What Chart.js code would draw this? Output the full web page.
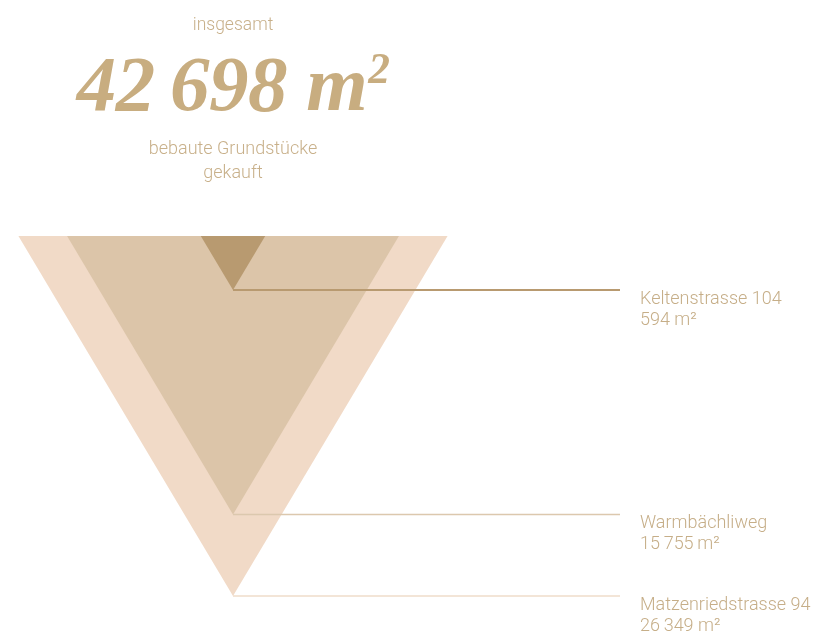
<!DOCTYPE html>
<html>
<head>
<meta charset="utf-8">
<script src="https://cdn.jsdelivr.net/npm/chart.js@4.4.1/dist/chart.umd.min.js"></script>
<style>
  html, body { margin: 0; padding: 0; background: #fff; }
  #wrap { position: relative; width: 818px; height: 632px; overflow: hidden; }
  canvas { position: absolute; left: 0; top: 0; }
  .head { position: absolute; left: 0; width: 466px; text-align: center; color: #c8b08a;
          font-family: Roboto, "Noto Sans", sans-serif; font-weight: 300; }
  #kicker { top: 12px; font-size: 17.5px; line-height: 24px; }
  #total { top: 18px; font-family: "Liberation Serif", "DejaVu Serif", serif; font-weight: bold;
           font-style: italic; font-size: 79px; color: #c8ad80; letter-spacing: -0.5px; line-height: 100px; }
  #total sup { font-size: 0.55em; vertical-align: 0.62em; margin-left: 1px; }
  #sub { top: 136px; font-size: 18px; line-height: 24px; }
</style>
</head>
<body>
<div id="wrap">
  <canvas id="chart" width="818" height="632"></canvas>
  <div class="head" id="kicker">insgesamt</div>
  <div class="head" id="total">42&#8201;698 m<sup>2</sup></div>
  <div class="head" id="sub">bebaute Grundstücke<br>gekauft</div>
</div>
<script>
// plots bought, smallest first
const plots = ['Keltenstrasse 104', 'Warmbächliweg', 'Matzenriedstrasse 94'];
const areas = [594, 15755, 26349];
const areaLabels = ['594 m²', '15\u2009755\u2009m²', '26\u2009349 m²'];

const fills = ['#b89a70', '#dcc5a9', '#f1dac7'];
const lineColors = ['#b89a70', '#dcc8ae', '#efdcca'];

// triangle geometry: depth grows with the square root of the area
const apexX = 233;
const topY = 236;
const k = 2.218;
const slope = 0.596;
const lineEnd = 620;
const labelX = 640;

const datasets = [];
areas.forEach((a, i) => {
  const depth = k * Math.sqrt(a);
  const half = depth * slope;
  datasets.push({
    label: plots[i],
    data: [
      {x: apexX - half, y: topY},
      {x: apexX + half, y: topY},
      {x: apexX, y: topY + depth},
      {x: apexX - half, y: topY}
    ],
    backgroundColor: fills[i],
    borderWidth: 0,
    fill: 'shape',
    pointRadius: 0,
    order: 10 + i
  });
});
// leader lines on top of all shapes
areas.forEach((a, i) => {
  const depth = k * Math.sqrt(a);
  datasets.push({
    label: plots[i] + ' line',
    data: [{x: apexX, y: topY + depth}, {x: lineEnd, y: topY + depth}],
    borderColor: lineColors[i],
    borderWidth: i === 0 ? 2 : 1.5,
    fill: false,
    pointRadius: 0,
    order: i
  });
});

const labelPlugin = {
  id: 'plotLabels',
  afterDatasetsDraw(chart) {
    const ctx = chart.ctx;
    const xs = chart.scales.x, ys = chart.scales.y;
    ctx.save();
    ctx.fillStyle = '#c6ae88';
    ctx.font = '300 18px Roboto, "Noto Sans", sans-serif';
    ctx.textBaseline = 'alphabetic';
    areas.forEach((a, i) => {
      const y = ys.getPixelForValue(topY + k * Math.sqrt(a));
      ctx.fillText(plots[i], xs.getPixelForValue(labelX), y + 13.5);
      ctx.fillText(areaLabels[i], xs.getPixelForValue(labelX), y + 35);
    });
    ctx.restore();
  }
};

new Chart(document.getElementById('chart'), {
  type: 'line',
  data: { datasets: datasets },
  options: {
    responsive: false,
    animation: false,
    layout: { padding: 0 },
    scales: {
      x: { type: 'linear', min: 0, max: 818, display: false },
      y: { type: 'linear', min: 0, max: 632, reverse: true, display: false }
    },
    plugins: { legend: { display: false }, tooltip: { enabled: false } }
  },
  plugins: [labelPlugin]
});
</script>
</body>
</html>
